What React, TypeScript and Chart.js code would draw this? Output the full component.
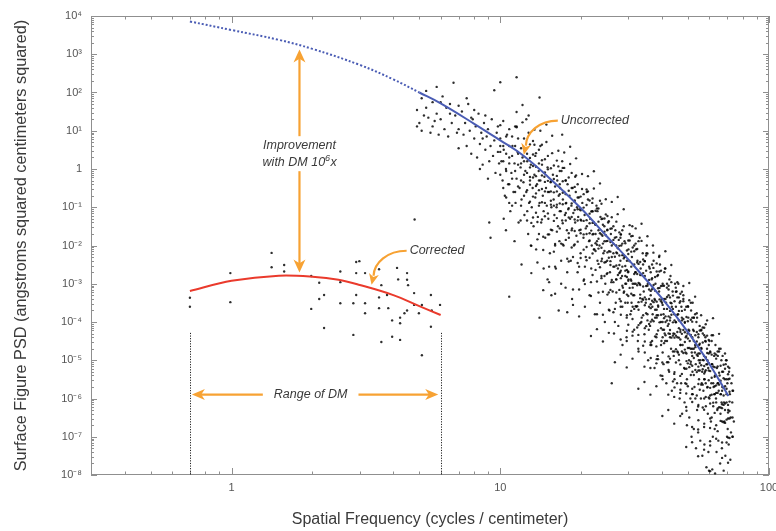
import React, { useEffect, useRef } from 'react';
import { Chart, registerables } from 'chart.js';

Chart.register(...registerables);

const FONT = '"Liberation Sans", "Helvetica Neue", Helvetica, Arial, sans-serif';
const ORANGE = '#f7a233';
const BLUE = '#4a5cb4';
const RED = '#ea3a2c';
const INK = '#3a3a3a';

// ---- model curves ----
const uncorrectedFreq = [0.7, 1, 1.5, 2, 3, 4, 5, 6, 8, 10, 12, 15, 20, 25, 30, 40, 50, 60, 70.6];
const uncorrectedPsd = [7200, 4300, 2380, 1380, 527, 220, 100, 52, 15.2, 5.6, 2.42, 0.64, 0.093, 0.0169, 0.00426, 4.12e-4, 5.36e-5, 7.98e-6, 1.17e-6];
const dottedUntilFreq = 5;

const correctedFreq = [0.7, 1, 1.5, 2, 2.5, 3, 4, 5, 6];
const correctedPsd = [6.5e-4, 1.19e-3, 1.62e-3, 1.53e-3, 1.28e-3, 9.3e-4, 5.05e-4, 2.6e-4, 1.52e-4];

// ---- measured points (uncorrected) : sparse outer cloud ----
const uncorrectedPoints: [number, number][] = [
  [4.9,35],[5.0,16],[5.1,71],[5.1,10],[5.3,40],[5.3,110],[5.4,22],[5.5,8.9],[5.6,56],[5.6,13],[5.8,140],[5.8,28],[5.9,7.9],[6.0,20],[6.1,79],[6.2,11],[6.3,40],[6.4,7.1],[6.5,50],[6.6,16],[6.7,180],[6.8,25],[6.9,8.9],[7.0,45],[7.0,11],[5.2,25],[6.0,56],[5.7,18],[6.5,28],[4.9,13],
  [7.2,32],[7.3,7.9],[7.4,16],[7.5,4.0],[7.6,50],[7.7,10],[7.8,2.5],[7.9,20],[8.0,6.3],[8.1,13],[8.2,2.0],[8.3,28],[8.4,4.5],[8.5,8.9],[8.6,1.3],[8.7,16],[8.8,3.2],[8.9,7.1],[9.0,11],[9.1,1.6],[9.2,4.0],[9.3,20],[9.4,2.2],[9.5,5.6],[9.6,0.79],[9.7,8.9],[9.8,2.8],[9.9,1.4],[10.0,4.0],[7.5,71],[8.0,35],[8.8,25],[9.5,115],[10.0,186],[9.0,0.56],[7.0,3.5],[8.4,1.0],[9.8,13],[7.8,22],[8.6,6.3],
  [10.1,1.6],[10.2,0.5],[10.3,3.2],[10.4,0.2],[10.5,1.0],[10.6,7.9],[10.7,0.4],[10.8,2.0],[10.9,0.079],[11.0,0.79],[11.1,4.0],[11.2,0.25],[11.3,1.4],[11.4,0.13],[11.5,0.56],[11.6,2.8],[11.7,0.04],[11.8,0.32],[11.9,1.1],[12.0,0.16],[12.1,2.0],[12.2,0.45],[12.3,0.063],[12.4,0.89],[12.5,0.25],[12.6,1.6],[12.7,0.02],[12.8,0.13],[12.9,0.5],[13.0,1.3],[13.1,0.1],[13.2,0.32],[13.3,0.032],[13.4,0.71],[13.5,0.18],[13.6,0.0079],[13.7,0.4],[13.8,0.056],[13.9,0.89],[14.0,0.13],[10.5,0.025],[11.5,13],[12.0,0.0032],[13.0,0.01],[10.8,0.13],[11.3,0.013],[12.6,0.079],[13.5,2.2],[11.9,0.045],[10.3,0.05],
  [14.1,0.5],[14.2,0.04],[14.3,1.3],[14.4,0.2],[14.5,0.079],[14.6,0.63],[14.7,0.016],[14.8,0.32],[14.9,0.11],[15.0,1.1],[15.1,0.05],[15.2,0.25],[15.3,0.0063],[15.4,0.45],[15.5,0.1],[15.6,0.025],[15.7,0.71],[15.8,0.16],[15.9,0.063],[16.0,0.35],[16.1,0.0025],[16.2,0.1],[16.3,0.5],[16.4,0.032],[16.5,0.2],[16.6,0.013],[16.7,0.32],[16.8,0.079],[16.9,0.89],[17.0,0.045],[17.1,0.16],[17.2,0.01],[17.3,0.25],[17.4,0.063],[17.5,7.9e-4],[17.6,0.13],[17.7,0.025],[17.8,0.4],[17.9,0.089],[18.0,0.016],[18.1,0.2],[18.2,0.05],[18.3,0.004],[18.4,0.11],[18.5,0.028],[18.6,0.32],[18.7,0.071],[18.8,0.01],[18.9,0.14],[19.0,0.04],[19.1,0.25],[19.2,0.018],[19.3,0.1],[19.4,0.002],[19.5,0.056],[19.6,0.18],[19.7,0.025],[19.8,0.089],[19.9,0.0063],[20.0,0.045],[14.5,0.0025],[15.5,5e-4],[16.5,2e-4],[17.0,1.6],[15.0,0.0013],[18.5,4e-4],[19.0,0.63],[16.0,0.01],[17.5,0.5],[14.0,1.3e-4],
  [20.2,0.13],[20.4,0.016],[20.6,0.063],[20.8,0.005],[21.0,0.032],[21.2,0.16],[21.4,0.013],[21.6,0.05],[21.8,0.0025],[22.0,0.079],[22.2,0.02],[22.4,0.0079],[22.6,0.035],[22.8,0.11],[23.0,0.004],[23.2,0.025],[23.4,0.01],[23.6,0.056],[23.8,0.0016],[24.0,0.018],[24.2,0.0063],[24.4,0.032],[24.6,0.001],[24.8,0.013],[25.0,0.004],[25.2,0.04],[25.4,0.0071],[25.6,0.002],[25.8,0.02],[26.0,0.005],[26.2,6.3e-4],[26.4,0.011],[26.6,0.0028],[26.8,0.025],[27.0,0.0013],[27.2,0.0063],[27.4,0.0025],[27.6,0.014],[27.8,4e-4],[28.0,0.004],[28.2,0.01],[28.4,0.0016],[28.6,7.9e-4],[28.8,0.0056],[29.0,0.013],[29.2,0.0022],[29.4,0.001],[29.6,0.004],[29.8,3.2e-4],[30.0,0.0079],[20.5,0.0013],[21.5,5e-4],[22.5,1.6e-4],[23.5,3.2e-4],[24.5,1e-4],[25.5,2e-4],[26.5,5e-5],[27.5,7.9e-5],[28.5,2.5e-5],[29.5,4e-5],[21.0,0.25],[22.0,0.13],[23.0,0.079],[24.0,0.05],[25.0,0.025],[26.0,0.028],[27.0,0.01],[28.0,0.016],[29.0,0.005],[30.0,0.0013],[20.8,0.028],[21.9,0.01],[22.9,0.013],[23.9,0.0045],[24.9,0.0018],[25.9,0.0011],[26.9,3.2e-4],[27.9,0.002],[28.9,6.3e-4],[29.9,0.002],
  [30.3,0.02],[30.6,0.0013],[30.9,0.005],[31.2,5e-4],[31.5,0.01],[31.8,0.002],[32.1,2.5e-4],[32.4,0.004],[32.7,0.013],[33.0,0.001],[33.3,0.0025],[33.6,1.3e-4],[33.9,0.0063],[34.2,6.3e-4],[34.5,0.0016],[34.8,3.2e-4],[35.1,0.01],[35.4,0.001],[35.7,6.3e-5],[36.0,0.0025],[36.3,5e-4],[36.6,0.0013],[36.9,1.6e-4],[37.2,0.004],[37.5,4e-4],[37.8,0.001],[38.1,4e-5],[38.4,0.0016],[38.7,2.5e-4],[39.0,6.3e-4],[39.3,0.0032],[39.6,1e-4],[39.9,4e-4],[40.2,0.001],[40.5,1.6e-4],[40.8,0.002],[41.1,3.2e-5],[41.4,3.2e-4],[41.7,7.9e-4],[42.0,7.9e-5],[42.3,5e-4],[42.6,0.0013],[42.9,1.3e-4],[43.2,2e-5],[43.5,2.5e-4],[43.8,6.3e-4],[44.1,5e-5],[44.4,1.6e-4],[44.7,0.001],[45.0,1e-4],
  [30.5,1.6e-4],[31.5,6.3e-5],[32.5,3.2e-5],[33.5,1e-4],[34.5,1.6e-5],[35.5,1e-5],[36.5,2.5e-5],[37.5,6.3e-6],[38.5,1.3e-5],[39.5,4e-6],[40.5,7.9e-6],[41.5,2.5e-6],[42.5,5e-6],[43.5,1.6e-6],[44.5,3.2e-6],[31.0,0.032],[33.0,0.016],[35.0,0.0063],[37.0,0.01],[39.0,0.005],[41.0,0.0025],[43.0,0.0016],[45.0,7.9e-4],[30.8,3.2e-4],[32.0,0.0079],[33.8,4e-4],[35.3,1.6e-4],[36.8,2.5e-4],[38.2,1.3e-4],[39.8,3.2e-5],[41.2,1e-4],[42.8,4e-5],[44.2,1.3e-5],[34.0,0.0032],[37.0,7.9e-4],[40.0,3.2e-4],[43.0,3.2e-4],[31.9,0.001],[36.1,7.9e-5],[40.9,5e-5],
  [45.3,6.3e-4],[45.6,4e-5],[45.9,1.6e-4],[46.2,1e-5],[46.5,3.2e-4],[46.8,6.3e-5],[47.1,2.5e-6],[47.4,1.3e-4],[47.7,2.5e-5],[48.0,5e-4],[48.3,6.3e-6],[48.6,1e-4],[48.9,1.6e-5],[49.2,2.5e-4],[49.5,3.2e-6],[49.8,5e-5],[50.1,1.3e-4],[50.4,1e-5],[50.7,3.2e-5],[51.0,1e-6],[51.3,2e-4],[51.6,1.6e-5],[51.9,5e-6],[52.2,6.3e-5],[52.5,1.3e-4],[52.8,2e-6],[53.1,2.5e-5],[53.4,7.9e-6],[53.7,1e-4],[54.0,5e-7],[54.3,1.3e-5],[54.6,4e-5],[54.9,3.2e-6],[55.2,7.9e-5],[55.5,1e-5],[55.8,1e-6],[56.1,2e-5],[56.4,5e-6],[56.7,5e-5],[57.0,1.6e-6],[57.3,1.3e-5],[57.6,3.2e-6],[57.9,3.2e-5],[58.2,6.3e-7],[58.5,7.9e-6],[58.8,2e-5],[59.1,2e-6],[59.4,6.3e-6],[59.7,2.5e-5],[60.0,1e-6],
  [45.5,2.5e-6],[46.5,1e-6],[47.5,4e-7],[48.5,7.9e-7],[49.5,2e-7],[50.5,3.2e-7],[51.5,1e-7],[52.5,1.6e-7],[53.5,5e-8],[54.5,1.3e-7],[55.5,7.9e-8],[56.5,3.2e-8],[57.5,6.3e-8],[58.5,1.6e-8],[59.5,4e-8],[46.0,1e-3],[48.0,4e-4],[50.0,2.5e-4],[52.0,3.2e-4],[54.0,1.3e-4],[56.0,6.3e-5],[58.0,4e-5],[60.0,3.2e-5],[45.8,1.6e-5],[47.2,2.5e-4],[48.8,2.5e-6],[50.2,6.3e-5],[51.8,4e-5],[53.2,1e-6],[54.8,1e-5],[56.2,2.5e-6],[57.8,5e-6],[59.2,4e-7],[46.9,2.5e-5],[49.0,4e-5],[51.1,7.9e-6],[53.0,1.6e-5],[55.0,2.5e-5],[57.1,1e-5],[59.0,1e-5],[52.0,1.3e-6],
  [60.5,1.6e-5],[61.0,2.5e-6],[61.5,7.9e-6],[62.0,6.3e-7],[62.5,1.3e-5],[63.0,4e-6],[63.5,1e-6],[64.0,6.3e-6],[64.5,1.3e-5],[65.0,1.6e-6],[65.5,4e-6],[66.0,4e-7],[66.5,1e-5],[67.0,2e-6],[67.5,5e-6],[68.0,7.9e-7],[68.5,3.2e-6],[69.0,7.9e-6],[69.5,1.3e-6],[70.0,2.5e-6],[70.5,5e-7],[71.0,5e-6],[71.5,1.3e-6],[72.0,3.2e-7],[72.5,2.5e-6],[73.0,7.9e-7],[73.5,1.6e-6],[74.0,2.5e-7],
  [60.8,2.5e-7],[61.8,1e-7],[62.8,1.6e-7],[63.8,4e-8],[64.8,7.9e-8],[65.8,2e-8],[66.8,5e-8],[67.8,1.3e-8],[68.8,3.2e-8],[69.8,1e-7],[70.8,6.3e-8],[71.8,2.5e-8],[63.0,1.1e-8],[61.2,3.2e-5],[63.2,2.5e-5],[65.2,2e-5],[67.2,1.3e-5],[69.2,1e-5],[71.2,6.3e-6],[62.2,2e-6],[64.2,5e-7],[66.2,1.3e-6],[68.2,2.5e-7],[70.2,1.6e-7],[72.2,1.3e-7],[73.2,1e-7],[62.6,1.3e-6],[64.6,2.5e-6],[66.6,7.9e-7],[68.6,5e-7],[70.6,3.2e-6],[59.8,1.3e-8],[61.5,1.4e-8],
  [4.8,0.048],[9.1,0.04],[9.2,0.016],[10.8,4.6e-4],[26,2.5e-6],[14.0,74],[12.5,20],[17,7.9],[11.5,250]
];

// ---- measured points (uncorrected) : dense core band ----
const uncorrectedCorePoints: [number, number][] = [
  [10.0,14],[10.0,2.8],[10.0,0.71],[10.0,6.3],[10.26,4.0],[10.26,18],[10.26,0.32],[10.26,1.6],[10.52,7.1],[10.52,0.89],[10.52,2.5],[10.52,0.18],[10.8,11],[10.8,1.4],[10.8,0.4],[10.8,4.0],
  [11.07,2.2],[11.07,7.1],[11.07,0.56],[11.07,0.11],[11.36,4.0],[11.36,0.89],[11.36,13],[11.36,0.25],[11.65,1.3],[11.65,6.3],[11.65,0.35],[11.65,2.5],[11.95,3.5],[11.95,0.5],[11.95,0.11],[11.95,1.4],[12.26,0.71],[12.26,6.3],[12.26,1.6],[12.26,0.2],[12.58,2.5],[12.58,0.28],[12.58,0.79],[12.58,0.045],
  [12.9,4.4],[12.9,1.1],[12.9,0.39],[12.9,0.14],[12.9,1.95],[12.9,0.62],[13.24,2.4],[13.24,0.6],[13.24,0.19],[13.24,5.4],[13.24,0.054],[13.24,1.2],[13.58,0.65],[13.58,2.6],[13.58,0.23],[13.58,0.072],[13.58,1.15],[13.58,0.36],[13.93,1.4],[13.93,0.28],[13.93,3.2],[13.93,0.11],[13.93,0.5],[13.93,0.02],[14.29,0.68],[14.29,4.3],[14.29,0.3],[14.29,0.135],[14.29,1.7],[14.29,0.048],
  [14.66,1.8],[14.66,0.46],[14.66,0.13],[14.66,0.058],[14.66,0.81],[14.66,0.26],[15.04,0.98],[15.04,0.25],[15.04,0.069],[15.04,2.2],[15.04,0.0195],[15.04,0.49],[15.43,0.26],[15.43,1.05],[15.43,0.117],[15.43,0.026],[15.43,0.47],[15.43,0.148],[15.83,0.55],[15.83,0.11],[15.83,1.23],[15.83,0.044],[15.83,0.245],[15.83,0.0069],[16.24,0.26],[16.24,1.66],[16.24,0.117],[16.24,0.052],[16.24,0.66],[16.24,0.023],
  [16.65,0.89],[16.65,0.22],[16.65,0.079],[16.65,0.028],[16.65,0.4],[16.65,0.126],[17.08,0.48],[17.08,0.12],[17.08,0.038],[17.08,1.07],[17.08,0.0107],[17.08,0.24],[17.53,0.126],[17.53,0.5],[17.53,0.045],[17.53,0.014],[17.53,0.22],[17.53,0.071],[17.98,0.27],[17.98,0.054],[17.98,0.6],[17.98,0.021],[17.98,0.095],[17.98,0.0038],[18.44,0.126],[18.44,0.79],[18.44,0.056],[18.44,0.025],[18.44,0.32],[18.44,0.0089],
  [18.92,0.34],[18.92,0.085],[18.92,0.024],[18.92,0.0107],[18.92,0.15],[18.92,0.048],[19.41,0.18],[19.41,0.045],[19.41,0.0126],[19.41,0.4],[19.41,0.0035],[19.41,0.089],[19.91,0.047],[19.91,0.19],[19.91,0.021],[19.91,0.0047],[19.91,0.083],[19.91,0.026],[20.43,0.098],[20.43,0.0195],[20.43,0.22],[20.43,0.0078],[20.43,0.044],[20.43,0.0012],[20.95,0.046],[20.95,0.29],[20.95,0.02],[20.95,0.0091],[20.95,0.115],[20.95,0.0041],
  [21.5,0.15],[21.5,0.038],[21.5,0.0135],[21.5,0.0048],[21.5,0.068],[21.5,0.021],[22.05,0.078],[22.05,0.0195],[22.05,0.0062],[22.05,0.17],[22.05,0.0017],[22.05,0.039],[22.62,0.02],[22.62,0.081],[22.62,0.0072],[22.62,0.0023],[22.62,0.036],[22.62,0.0115],[23.2,0.042],[23.2,0.0083],[23.2,0.093],[23.2,0.0033],[23.2,0.015],[23.2,5.9e-4],[23.8,0.0195],[23.8,0.123],[23.8,0.0087],[23.8,0.0039],[23.8,0.049],[23.8,0.0014],
  [24.42,0.051],[24.42,0.0129],[24.42,0.0036],[24.42,0.0016],[24.42,0.023],[24.42,0.0072],[25.05,0.026],[25.05,0.0066],[25.05,0.0019],[25.05,0.059],[25.05,5.2e-4],[25.05,0.0132],[25.7,0.0069],[25.7,0.0275],[25.7,0.0031],[25.7,6.9e-4],[25.7,0.0123],[25.7,0.0039],[26.36,0.014],[26.36,0.0028],[26.36,0.032],[26.36,0.0011],[26.36,0.0063],[26.36,1.8e-4],[27.04,0.0066],[27.04,0.042],[27.04,0.003],[27.04,0.0013],[27.04,0.0166],[27.04,5.9e-4],
  [27.74,0.022],[27.74,0.0055],[27.74,0.0019],[27.74,6.9e-4],[27.74,0.0098],[27.74,0.0031],[28.46,0.0112],[28.46,0.0028],[28.46,8.9e-4],[28.46,0.025],[28.46,2.5e-4],[28.46,0.0056],[29.19,0.0029],[29.19,0.0115],[29.19,0.001],[29.19,3.2e-4],[29.19,0.0051],[29.19,0.0016],[29.95,0.006],[29.95,0.0012],[29.95,0.0135],[29.95,4.8e-4],[29.95,0.0021],[29.95,8.5e-5],[30.72,0.0028],[30.72,0.0174],[30.72,0.0012],[30.72,5.5e-4],[30.72,0.0069],[30.72,1.95e-4],
  [31.51,0.0071],[31.51,0.0018],[31.51,5e-4],[31.51,2.2e-4],[31.51,0.0032],[31.51,0.001],[32.33,0.0036],[32.33,9.1e-4],[32.33,2.6e-4],[32.33,0.0081],[32.33,7.2e-5],[32.33,0.0018],[33.17,9.3e-4],[33.17,0.0037],[33.17,4.2e-4],[33.17,9.3e-5],[33.17,0.0017],[33.17,5.2e-4],[34.02,0.0019],[34.02,3.8e-4],[34.02,0.0043],[34.02,1.5e-4],[34.02,8.5e-4],[34.02,2.4e-5],[34.9,8.7e-4],[34.9,0.0055],[34.9,3.9e-4],[34.9,1.7e-4],[34.9,0.0022],[34.9,7.8e-5],
  [35.8,0.0028],[35.8,7.1e-4],[35.8,2.5e-4],[35.8,8.9e-5],[35.8,0.00126],[35.8,4e-4],[36.73,0.0014],[36.73,3.6e-4],[36.73,1.15e-4],[36.73,0.0032],[36.73,3.2e-5],[36.73,7.2e-4],[37.68,3.7e-4],[37.68,0.0015],[37.68,1.3e-4],[37.68,4.2e-5],[37.68,6.6e-4],[37.68,2.1e-4],[38.65,7.6e-4],[38.65,1.5e-4],[38.65,0.0017],[38.65,6e-5],[38.65,2.7e-4],[38.65,1.07e-5],[39.65,3.5e-4],[39.65,0.0022],[39.65,1.55e-4],[39.65,6.9e-5],[39.65,8.7e-4],[39.65,2.5e-5],
  [40.68,8.9e-4],[40.68,2.2e-4],[40.68,6.3e-5],[40.68,2.8e-5],[40.68,4e-4],[40.68,1.26e-4],[41.73,4.5e-4],[41.73,1.1e-4],[41.73,3.2e-5],[41.73,0.001],[41.73,8.9e-6],[41.73,2.2e-4],[42.81,1.1e-4],[42.81,4.4e-4],[42.81,4.9e-5],[42.81,1.1e-5],[42.81,1.95e-4],[42.81,6.2e-5],[43.91,2.2e-4],[43.91,4.4e-5],[43.91,4.9e-4],[43.91,1.7e-5],[43.91,9.8e-5],[43.91,2.8e-6],[45.05,9.8e-5],[45.05,6.2e-4],[45.05,4.4e-5],[45.05,1.95e-5],[45.05,2.5e-4],[45.05,8.7e-6],
  [46.21,4.4e-4],[46.21,1.1e-4],[46.21,3.9e-5],[46.21,1.4e-5],[46.21,1.95e-4],[46.21,6.9e-5],[47.41,1.95e-4],[47.41,4.9e-5],[47.41,1.7e-5],[47.41,6.2e-4],[47.41,4.4e-6],[47.41,1.1e-4],[48.63,5.4e-5],[48.63,2.1e-4],[48.63,1.9e-5],[48.63,6e-6],[48.63,9.5e-5],[48.63,3e-5],[49.89,1.05e-4],[49.89,2.1e-5],[49.89,2.6e-4],[49.89,8.3e-6],[49.89,3.7e-5],[49.89,2.1e-6],[51.18,4.6e-5],[51.18,3.2e-4],[51.18,2e-5],[51.18,9.1e-6],[51.18,1.15e-4],[51.18,4.1e-6],
  [52.5,1.3e-4],[52.5,3.2e-5],[52.5,1.15e-5],[52.5,4.1e-6],[52.5,5.8e-5],[52.5,2e-5],[53.86,5.5e-5],[53.86,1.4e-5],[53.86,4.9e-6],[53.86,1.7e-4],[53.86,1.2e-6],[53.86,3.1e-5],[55.25,1.5e-5],[55.25,6e-5],[55.25,5.4e-6],[55.25,1.7e-6],[55.25,2.7e-5],[55.25,8.5e-6],[56.68,2.9e-5],[56.68,5.8e-6],[56.68,7.2e-5],[56.68,2.3e-6],[56.68,1.02e-5],[56.68,5.8e-7],[58.15,1.2e-5],[58.15,8.7e-5],[58.15,5.5e-6],[58.15,2.5e-6],[58.15,3.1e-5],[58.15,1.1e-6],
  [59.65,3.4e-5],[59.65,8.5e-6],[59.65,3e-6],[59.65,1.07e-6],[59.65,1.5e-5],[59.65,5.4e-6],[61.19,1.4e-5],[61.19,3.5e-6],[61.19,1.26e-6],[61.19,4.5e-5],[61.19,3.2e-7],[61.19,7.9e-6],[62.77,3.7e-6],[62.77,1.5e-5],[62.77,1.3e-6],[62.77,4.2e-7],[62.77,6.6e-6],[62.77,2.1e-6],[64.4,6.9e-6],[64.4,1.4e-6],[64.4,1.7e-5],[64.4,5.5e-7],[64.4,2.5e-6],[64.4,1.4e-7],[66.06,2.9e-6],[66.06,2e-5],[66.06,1.3e-6],[66.06,5.8e-7],[66.06,7.2e-6],[66.06,2.6e-7],
  [67.77,7.6e-6],[67.77,1.9e-6],[67.77,6.8e-7],[67.77,2.4e-7],[67.77,3.4e-6],[67.77,1.2e-6],[69.52,3.2e-6],[69.52,7.9e-7],[69.52,2.8e-7],[69.52,1e-5],[69.52,7.1e-8],[69.52,1.8e-6],[71.32,8.3e-7],[71.32,3.3e-6],[71.32,3e-7],[71.32,9.3e-8],[71.32,1.5e-6],[71.32,4.7e-7],[73.16,1.6e-6],[73.16,3.2e-7],[73.16,4e-6],[73.16,1e-7],
  [28.1,0.0014],[28.1,3.5e-4],[28.1,1.55e-4],[28.1,0.0195],[29.6,5.2e-4],[29.6,1.5e-4],[29.6,0.0015],[29.6,5.9e-5],[31.1,2.5e-4],[31.1,7.9e-4],[31.1,5.6e-5],[31.1,0.0178],[32.7,3.3e-4],[32.7,8.3e-5],[32.7,2.1e-4],[32.7,1.7e-5],[34.5,2.75e-4],[34.5,6.9e-5],[34.5,3.1e-5],[34.5,0.0039],[36.3,1.02e-4],[36.3,2.9e-5],[36.3,2.9e-4],[36.3,1.15e-5],
  [38.2,4.8e-5],[38.2,1.5e-4],[38.2,1.07e-5],[38.2,0.0034],[40.2,6.3e-5],[40.2,1.6e-5],[40.2,4e-5],[40.2,3.2e-6],[42.3,5e-5],[42.3,1.26e-5],[42.3,5.6e-6],[42.3,7.1e-4],[44.5,1.7e-5],[44.5,4.9e-6],[44.5,4.9e-5],[44.5,1.95e-6],[46.8,7.8e-6],[46.8,2.5e-5],[46.8,1.7e-6],[46.8,5.5e-4],[49.3,9.5e-6],[49.3,2.4e-6],[49.3,6e-6],[49.3,4.8e-7],
  [51.8,7.2e-6],[51.8,1.8e-6],[51.8,8.1e-7],[51.8,1.02e-4],[54.6,2.4e-6],[54.6,6.8e-7],[54.6,6.8e-6],[54.6,2.7e-7],[57.4,1e-6],[57.4,3.2e-6],[57.4,2.2e-7],[57.4,7.1e-5],[60.4,1.2e-6],[60.4,3e-7],[60.4,7.4e-7],[60.4,5.9e-8],[63.6,7.9e-7],[63.6,2e-7],[63.6,8.9e-8],[63.6,1.1e-5],[66.9,2.5e-7],[66.9,7.1e-8],[66.9,7.1e-7],[66.9,2.8e-8],[70.4,9.5e-8],[70.4,3e-7],[70.4,2.1e-8],[70.4,6.8e-6]
];

// ---- measured points (uncorrected) : dense core, second pass ----
const uncorrectedCorePoints2: [number, number][] = [
  [21.8,0.0245],[21.8,0.078],[22.3,0.0079],[22.3,0.04],[22.9,0.093],[22.9,0.0105],[23.5,0.021],[23.5,0.0027],[24.1,0.0112],[24.1,0.035],[24.7,0.0037],[24.7,0.0186],[25.35,0.043],[25.35,0.0048],[26.0,0.01],[26.0,0.00126],[26.7,0.0051],[26.7,0.016],[27.4,0.0017],[27.4,0.0085],
  [28.1,0.0195],[28.1,0.0022],[28.8,0.0046],[28.8,5.8e-4],[29.6,0.0023],[29.6,0.0074],[30.3,7.8e-4],[30.3,0.0039],[31.1,0.0089],[31.1,0.001],[31.9,0.002],[31.9,2.6e-4],[32.7,0.00105],[32.7,0.0033],[33.55,3.4e-4],[33.55,0.0017],[34.5,0.0039],[34.5,4.4e-4],[35.3,8.9e-4],[35.3,1.1e-4],
  [36.3,6.5e-4],[36.3,0.002],[36.3,2.3e-4],[37.2,9.3e-4],[37.2,3.3e-4],[37.2,1.05e-4],[38.2,3.4e-4],[38.2,0.0021],[38.2,2.1e-4],[39.15,7.8e-4],[39.15,3.9e-4],[39.15,9.8e-5],[40.2,2.8e-4],[40.2,8.9e-4],[40.2,1e-4],[41.2,4e-4],[41.2,1.4e-4],[41.2,4.5e-5],
  [42.3,1.4e-4],[42.3,8.9e-4],[42.3,8.9e-5],[43.35,3.1e-4],[43.35,1.55e-4],[43.35,3.9e-5],[44.5,1.1e-4],[44.5,3.5e-4],[44.5,3.9e-5],[45.6,1.55e-4],[45.6,5.5e-5],[45.6,1.7e-5],[46.8,5.5e-5],[46.8,3.5e-4],[46.8,3.5e-5],[48.0,1.2e-4],[48.0,6.2e-5],[48.0,1.55e-5],
  [49.3,4.3e-5],[49.3,1.35e-4],[49.3,1.5e-5],[50.5,5.9e-5],[50.5,2.1e-5],[50.5,6.6e-6],[51.8,2e-5],[51.8,1.3e-4],[51.8,1.3e-5],[53.2,4.5e-5],[53.2,2.2e-5],[53.2,5.6e-6],[54.6,1.5e-5],[54.6,4.8e-5],[54.6,5.4e-6],[55.95,2.1e-5],[55.95,7.4e-6],[55.95,2.3e-6],
  [57.4,7.1e-6],[57.4,4.5e-5],[57.4,4.5e-6],[58.9,1.55e-5],[58.9,7.8e-6],[58.9,1.95e-6],[60.4,5.2e-6],[60.4,1.7e-5],[60.4,1.9e-6],[62.0,6.9e-6],[62.0,2.5e-6],[62.0,7.8e-7],[63.6,2.2e-6],[63.6,1.4e-5],[63.6,1.4e-6],[65.2,4.7e-6],[65.2,2.3e-6],[65.2,5.9e-7],
  [66.9,1.6e-6],[66.9,5e-6],[66.9,5.6e-7],[68.65,2.1e-6],[68.65,7.4e-7],[68.65,2.3e-7],[70.4,6.8e-7],[70.4,4.3e-6],[70.4,4.3e-7]
];

// ---- measured points (uncorrected) : lower halo ----
const uncorrectedLowerPoints: [number, number][] = [
  [13.05,0.039],[13.05,0.0098],[13.05,0.0019],[13.75,0.0145],[13.75,0.0036],[13.75,0.041],[14.45,0.0076],[14.45,0.017],[14.45,6.8e-4],[15.2,0.0195],[15.2,0.0028],[15.2,0.0011],
  [16.0,0.011],[16.0,0.0028],[16.0,5.5e-4],[16.85,0.004],[16.85,0.001],[16.85,0.0112],[17.75,0.002],[17.75,0.0045],[17.75,1.8e-4],[18.65,0.005],[18.65,7.1e-4],[18.65,2.8e-4],
  [19.65,0.0028],[19.65,7.1e-4],[19.65,1.4e-4],[20.65,9.8e-4],[20.65,2.5e-4],[20.65,0.0028],[21.75,4.8e-4],[21.75,0.0011],[21.75,4.3e-5],[22.9,0.00115],[22.9,1.6e-4],[22.9,6.5e-5],
  [24.1,6.2e-4],[24.1,1.55e-4],[24.1,3.1e-5],[25.35,2.1e-4],[25.35,5.2e-5],[25.35,5.9e-4],[26.7,1e-4],[26.7,2.2e-4],[26.7,8.9e-6],[28.05,2.5e-4],[28.05,3.5e-5],[28.05,1.4e-5],
  [29.55,1.3e-4],[29.55,3.2e-5],[29.55,6.5e-6],[31.05,4.4e-5],[31.05,1.1e-5],[31.05,1.2e-4],[32.65,2e-5],[32.65,4.6e-5],[32.65,1.8e-6],[34.4,4.8e-5],[34.4,6.8e-6],[34.4,2.7e-6],
  [36.2,2.5e-5],[36.2,6.3e-6],[36.2,1.26e-6],[38.1,8.3e-6],[38.1,2.1e-6],[38.1,2.3e-5],[40.1,3.9e-6],[40.1,8.7e-6],[40.1,3.5e-7],[42.2,8.9e-6],[42.2,1.26e-6],[42.2,5e-7],
  [44.4,4.4e-6],[44.4,1.1e-6],[44.4,2.2e-7],[46.75,1.4e-6],[46.75,3.5e-7],[46.75,3.9e-6],[49.2,6e-7],[49.2,1.35e-6],[49.2,5.4e-8],[51.75,1.3e-6],[51.75,1.8e-7],[51.75,7.2e-8],
  [54.5,6.2e-7],[54.5,1.55e-7],[54.5,3.1e-8],[57.35,1.8e-7],[57.35,4.6e-8],[57.35,5.1e-7],[60.35,7.6e-8],[60.35,1.7e-7],[60.35,1.26e-8]
];

// ---- measured points (uncorrected) : upper fringe ----
const uncorrectedUpperPoints: [number, number][] = [
  [11.5,12.3],[11.5,31],[12.1,16.6],[12.1,47],[12.75,25],[12.75,8.9],[13.4,4.3],[13.4,10.7],[14.1,4.0],[14.1,10],[14.85,5.1],[14.85,14.5],
  [15.6,7.4],[15.6,2.6],[16.45,1.17],[16.45,3.0],[17.3,1.07],[17.3,2.7],[18.2,1.35],[18.2,3.8],[19.15,1.9],[19.15,0.68],[20.15,0.3],[20.15,0.74],
  [21.2,0.26],[21.2,0.65],[22.3,0.31],[22.3,0.87],[23.5,0.42],[23.5,0.148],[24.7,0.065],[24.7,0.162],[26.0,0.055],[26.0,0.138],[27.35,0.066],[27.35,0.186],
  [28.8,0.089],[28.8,0.032],[30.3,0.0135],[30.3,0.034],[31.9,0.0112],[31.9,0.028],[33.55,0.0132],[33.55,0.037],[35.3,0.0174],[35.3,0.0062],[37.15,0.0026],[37.15,0.0065],
  [39.1,0.0021],[39.1,0.0054],[41.15,0.0025],[41.15,0.0071],[43.3,0.0031],[43.3,0.0011],[45.6,4.4e-4],[45.6,0.0011],[48.0,3.5e-4],[48.0,8.7e-4],[50.5,3.7e-4],[50.5,0.00105],
  [53.1,4.6e-4],[53.1,1.6e-4],[55.9,6e-5],[55.9,1.5e-4],[58.85,4.4e-5],[58.85,1.1e-4],[61.9,4.5e-5],[61.9,1.26e-4],[65.2,4.9e-5],[65.2,1.7e-5],[68.6,6e-6],[68.6,1.5e-5]
];

// ---- measured points (corrected, within DM range) ----
const correctedPoints: [number, number][] = [
  [1.41,6.4e-3],[1.41,2.7e-3],[1.57,3.1e-3],[1.57,2.1e-3],[0.99,1.9e-3],[0.99,3.3e-4],[0.70,4.3e-4],[0.70,2.5e-4],[1.98,1.6e-3],[1.98,2.2e-4],[2.12,1.06e-3],[2.12,4.0e-4],[2.21,5.1e-4],[2.21,7.0e-5],[2.54,2.1e-3],[2.54,1.1e-3],[2.54,3.1e-4],[2.84,3.1e-4],[2.84,4.6e-5],[2.91,3.7e-3],[2.99,3.9e-3],[2.91,1.9e-3],[2.91,5.1e-4],[3.14,1.9e-3],[3.14,3.1e-4],[3.14,1.7e-4],[3.54,2.4e-3],[3.54,4.4e-4],[3.54,2.3e-4],[3.61,9.2e-4],[3.61,3.0e-5],[3.79,5.1e-4],[3.83,2.3e-4],[3.96,1.1e-4],[4.13,2.6e-3],[4.17,1.3e-3],[4.24,1.3e-4],[4.24,9.3e-5],[3.96,4.1e-5],[4.24,3.4e-5],[4.5,1.9e-3],[4.5,1.27e-3],[4.5,2.0e-4],[4.54,9.2e-4],[4.78,5.7e-4],[4.78,2.8e-4],[5.11,2.8e-4],[5.11,1.35e-5],[5.52,5.1e-4],[5.52,7.5e-5],[5.56,2.0e-4],[5.97,2.8e-4],[4.98,1.7e-4],[4.4,1.7e-4]
];

// ---- axes ----
const xMin = 0.313;
const xMax = 100;
const yMin = 1e-8;
const yMax = 1e4;
const xTickValues = [1, 10, 100];
const xTickLabels = ['1', '10', '100'];
const yTickValues = [1e-8, 1e-7, 1e-6, 1e-5, 1e-4, 1e-3, 1e-2, 1e-1, 1, 1e1, 1e2, 1e3, 1e4];
const yTickLabels = ['10⁻⁸', '10⁻⁷', '10⁻⁶', '10⁻⁵', '10⁻⁴', '10⁻³', '10⁻²', '10⁻¹', '1', '10¹', '10²', '10³', '10⁴'];
const xTitle = 'Spatial Frequency (cycles / centimeter)';
const yTitle = 'Surface Figure PSD (angstroms squared centimeters squared)';

// ---- annotations (data coordinates) ----
const dmRangeFreq = [0.7, 6.03];
const dmRangeTopPsd = 5.2e-5;
const dmArrowPsd = 1.27e-6;
const dmLabelFreq = 1.97;
const dmLabel = 'Range of DM';
const improvementFreq = 1.79;
const improvementTopPsd = 1330;
const improvementBottomPsd = 1.96e-3;
const improvementLabelPsd = 2.44;
const uncorrectedLabel = { text: 'Uncorrected', freq: 16.8, psd: 18.4, tipFreq: 12.24, tipPsd: 2.37 };
const correctedLabel = { text: 'Corrected', freq: 4.6, psd: 7.3e-3, tipFreq: 3.32, tipPsd: 9.4e-4 };

function labelFor(v: number, values: number[], labels: string[]) {
  const i = values.findIndex((t) => Math.abs(t - v) / t < 1e-6);
  return i >= 0 ? labels[i] : '';
}

function arrowHead(ctx: CanvasRenderingContext2D, x: number, y: number, ang: number, L = 12, W = 5.5) {
  const c = Math.cos(ang), s = Math.sin(ang);
  const bx = x - L * c, by = y - L * s;
  const nx = x - L * 0.72 * c, ny = y - L * 0.72 * s;
  ctx.beginPath();
  ctx.moveTo(x, y);
  ctx.lineTo(bx - W * s, by + W * c);
  ctx.lineTo(nx, ny);
  ctx.lineTo(bx + W * s, by - W * c);
  ctx.closePath();
  ctx.fill();
}

function seg(ctx: CanvasRenderingContext2D, x0: number, y0: number, x1: number, y1: number) {
  ctx.beginPath();
  ctx.moveTo(x0, y0);
  ctx.lineTo(x1, y1);
  ctx.stroke();
}

const framePlugin = {
  id: 'frameTicks',
  beforeDatasetsDraw(chart: any) {
    const { ctx, chartArea: a, scales } = chart;
    const xs = scales.x, ys = scales.y;
    ctx.save();
    ctx.strokeStyle = '#8f8f8f';
    ctx.lineWidth = 1;
    ctx.strokeRect(Math.round(a.left) + 0.5, Math.round(a.top) + 0.5, Math.round(a.right - a.left) - 1, Math.round(a.bottom - a.top) - 1);
    ctx.beginPath();
    for (let e = -8; e <= 4; e++) {
      for (let m = 1; m <= 9; m++) {
        const v = m * Math.pow(10, e);
        if (v < yMin * 0.999 || v > yMax * 1.001) continue;
        const p = Math.round(ys.getPixelForValue(v)) + 0.5;
        const len = m === 1 ? 6 : 3;
        ctx.moveTo(a.left, p); ctx.lineTo(a.left + len, p);
        ctx.moveTo(a.right, p); ctx.lineTo(a.right - len, p);
      }
    }
    for (let e = -1; e <= 2; e++) {
      for (let m = 1; m <= 9; m++) {
        const v = m * Math.pow(10, e);
        if (v < xMin || v > xMax * 1.001) continue;
        const p = Math.round(xs.getPixelForValue(v)) + 0.5;
        const len = m === 1 ? 7 : 3.5;
        ctx.moveTo(p, a.bottom); ctx.lineTo(p, a.bottom - len);
        ctx.moveTo(p, a.top); ctx.lineTo(p, a.top + len);
      }
    }
    ctx.stroke();
    ctx.restore();
  },
};

function curvedArrow(ctx: CanvasRenderingContext2D, sx: number, sy: number, tx: number, ty: number) {
  const dx = sx - tx, dy = ty - sy;
  const L = 10;
  const ex = tx + 2, ey = ty - L + 1;
  ctx.beginPath();
  ctx.moveTo(sx, sy);
  ctx.bezierCurveTo(sx - 0.55 * dx, sy, ex + 0.5, sy + 0.35 * dy, ex, ey);
  ctx.stroke();
  arrowHead(ctx, tx, ty, Math.atan2(ty - ey, tx - ex), 11, 5);
}

const annotationPlugin = {
  id: 'annotations',
  afterDatasetsDraw(chart: any) {
    const { ctx, chartArea: a, scales } = chart;
    const xs = scales.x, ys = scales.y;
    const X = (v: number) => xs.getPixelForValue(v);
    const Y = (v: number) => ys.getPixelForValue(v);
    ctx.save();

    ctx.strokeStyle = '#222';
    ctx.lineWidth = 1;
    ctx.setLineDash([1.2, 1.4]);
    for (const f of dmRangeFreq) {
      const px = Math.round(X(f)) + 0.5;
      seg(ctx, px, Y(dmRangeTopPsd), px, a.bottom);
    }
    ctx.setLineDash([]);

    const italic = `italic 12.5px ${FONT}`;
    ctx.strokeStyle = ORANGE;
    ctx.fillStyle = ORANGE;
    ctx.lineWidth = 2.2;
    ctx.lineCap = 'butt';

    ctx.font = italic;
    const ry = Y(dmArrowPsd);
    const rx0 = X(dmRangeFreq[0]) + 2;
    const rx1 = X(dmRangeFreq[1]) - 3;
    const lc = X(dmLabelFreq);
    const lw = ctx.measureText(dmLabel).width;
    seg(ctx, rx0 + 8, ry, lc - lw / 2 - 11, ry);
    seg(ctx, lc + lw / 2 + 11, ry, rx1 - 8, ry);
    arrowHead(ctx, rx0, ry, Math.PI, 13, 5.5);
    arrowHead(ctx, rx1, ry, 0, 13, 5.5);

    const ix = X(improvementFreq);
    const itop = Y(improvementTopPsd);
    const ibot = Y(improvementBottomPsd);
    const ic = Y(improvementLabelPsd);
    seg(ctx, ix, itop + 8, ix, ic - 18);
    seg(ctx, ix, ic + 17, ix, ibot - 8);
    arrowHead(ctx, ix, itop, -Math.PI / 2, 13, 6);
    arrowHead(ctx, ix, ibot, Math.PI / 2, 13, 6);

    const uL = { x: X(uncorrectedLabel.freq), y: Y(uncorrectedLabel.psd) };
    curvedArrow(ctx, uL.x - 3, uL.y, X(uncorrectedLabel.tipFreq), Y(uncorrectedLabel.tipPsd));
    const cL = { x: X(correctedLabel.freq), y: Y(correctedLabel.psd) };
    curvedArrow(ctx, cL.x - 3, cL.y, X(correctedLabel.tipFreq), Y(correctedLabel.tipPsd));

    ctx.fillStyle = INK;
    ctx.font = italic;
    ctx.textBaseline = 'middle';
    ctx.textAlign = 'center';
    ctx.fillText(dmLabel, lc, ry);
    ctx.fillText('Improvement', ix, ic - 8.5);
    const p1 = 'with DM 10', p2 = '6', p3 = 'x';
    const sup = `italic 9px ${FONT}`;
    ctx.font = italic;
    const w1 = ctx.measureText(p1).width, w3 = ctx.measureText(p3).width;
    ctx.font = sup;
    const w2 = ctx.measureText(p2).width;
    const sx = ix - (w1 + w2 + w3) / 2;
    ctx.textAlign = 'left';
    ctx.font = italic;
    ctx.fillText(p1, sx, ic + 8.5);
    ctx.font = sup;
    ctx.fillText(p2, sx + w1, ic + 4);
    ctx.font = italic;
    ctx.fillText(p3, sx + w1 + w2 + 0.5, ic + 8.5);

    ctx.fillText(uncorrectedLabel.text, uL.x, uL.y);
    ctx.fillText(correctedLabel.text, cL.x, cL.y);
    ctx.restore();
  },
};

export default function App() {
  const ref = useRef<HTMLCanvasElement | null>(null);
  useEffect(() => {
    if (!ref.current) return;
    const dot = {
      pointRadius: 1.2,
      pointBorderWidth: 0,
      pointBackgroundColor: 'rgba(0,0,0,0.82)',
      order: 2,
    };
    const toXY = (pts: [number, number][]) => pts.map(([x, y]) => ({ x, y }));
    const chart = new Chart(ref.current, {
      type: 'line',
      data: {
        datasets: [
          {
            type: 'line',
            label: 'Uncorrected model',
            data: uncorrectedFreq.map((x, i) => ({ x, y: uncorrectedPsd[i] })),
            borderColor: BLUE,
            borderWidth: 2,
            pointRadius: 0,
            tension: 0.4,
            fill: false,
            segment: {
              borderDash: (c: any) => (c.p1.parsed.x <= dottedUntilFreq + 1e-9 ? [2, 2] : []),
            },
            order: 1,
          } as any,
          {
            type: 'line',
            label: 'Corrected model',
            data: correctedFreq.map((x, i) => ({ x, y: correctedPsd[i] })),
            borderColor: RED,
            borderWidth: 2,
            pointRadius: 0,
            tension: 0.35,
            fill: false,
            order: 0,
          },
          { type: 'scatter', label: 'Uncorrected data', data: toXY(uncorrectedPoints), ...dot } as any,
          { type: 'scatter', label: 'Uncorrected data (core)', data: toXY(uncorrectedCorePoints), ...dot } as any,
          { type: 'scatter', label: 'Uncorrected data (core 2)', data: toXY(uncorrectedCorePoints2), ...dot } as any,
          { type: 'scatter', label: 'Uncorrected data (lower)', data: toXY(uncorrectedLowerPoints), ...dot } as any,
          { type: 'scatter', label: 'Uncorrected data (upper)', data: toXY(uncorrectedUpperPoints), ...dot } as any,
          { type: 'scatter', label: 'Corrected data', data: toXY(correctedPoints), ...dot } as any,
        ],
      },
      options: {
        animation: false,
        responsive: true,
        maintainAspectRatio: false,
        devicePixelRatio: 1,
        layout: { padding: { top: 16, right: 7, left: 0, bottom: 0 } },
        plugins: { legend: { display: false }, tooltip: { enabled: false } },
        events: [],
        scales: {
          x: {
            type: 'logarithmic',
            min: xMin,
            max: xMax,
            grid: { display: false, drawTicks: false },
            border: { display: false },
            afterBuildTicks: (s: any) => { s.ticks = xTickValues.map((value) => ({ value })); },
            afterFit: (s: any) => { s.height = 56; s.paddingLeft = 0; s.paddingRight = 0; },
            ticks: {
              autoSkip: false,
              maxRotation: 0,
              padding: 6,
              color: '#555',
              font: { family: FONT, size: 11 },
              callback: (v: any) => labelFor(Number(v), xTickValues, xTickLabels),
            },
            title: {
              display: true,
              text: xTitle,
              color: INK,
              font: { family: FONT, size: 16 },
              padding: { top: 0, bottom: 2 },
            },
          },
          y: {
            type: 'logarithmic',
            min: yMin,
            max: yMax,
            grid: { display: false, drawTicks: false },
            border: { display: false },
            afterBuildTicks: (s: any) => { s.ticks = yTickValues.map((value) => ({ value })); },
            afterFit: (s: any) => { s.width = 91; s.paddingTop = 0; s.paddingBottom = 0; },
            ticks: {
              autoSkip: false,
              padding: 9,
              color: '#555',
              font: { family: FONT, size: 11 },
              callback: (v: any) => labelFor(Number(v), yTickValues, yTickLabels),
            },
            title: {
              display: true,
              text: yTitle,
              color: INK,
              font: { family: FONT, size: 16.3 },
              padding: { top: 12, bottom: 0 },
            },
          },
        },
      },
      plugins: [framePlugin, annotationPlugin],
    } as any);
    return () => chart.destroy();
  }, []);

  return (
    <div style={{ position: 'fixed', left: 0, top: 0, width: 776, height: 531, background: '#fff' }}>
      <canvas ref={ref} />
    </div>
  );
}
